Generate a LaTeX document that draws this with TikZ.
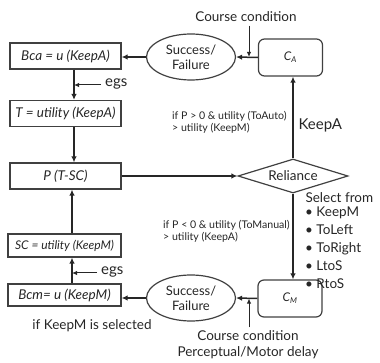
\documentclass[tikz,border=0pt]{standalone}
\usepackage{fontspec}
\setmainfont{Lato}
\usetikzlibrary{shapes.geometric,arrows.meta}
\begin{document}
\begin{tikzpicture}[x=1pt,y=-1pt,
  every node/.style={text=black!85,font=\fontsize{13.5}{14}\selectfont},
  box/.style={draw=black!75,line width=1.2pt,minimum width=111pt,minimum height=26pt,inner sep=0pt,font=\itshape\fontsize{13.5}{14}\selectfont},
  ell/.style={ellipse,draw=black!75,line width=1.2pt,minimum width=89pt,minimum height=46pt,inner sep=0pt,align=center,font=\fontsize{13}{15}\selectfont},
  cbox/.style={rounded corners=6pt,draw=black!75,line width=1.2pt,minimum width=64pt,minimum height=37pt,font=\itshape\fontsize{12}{12}\selectfont},
  arr/.style={draw=black!85,-{Latex[length=6pt,width=5.5pt]},line width=1.5pt},
  tarr/.style={draw=black!85,-{Latex[length=5pt,width=4.5pt]},line width=1pt},
  small/.style={font=\fontsize{10.6}{11.5}\selectfont,align=left,inner sep=0pt}
]
\useasboundingbox (0,0) rectangle (380,363);
% left column
\node[box] (bca) at (65.5,56) {Bca = u (KeepA)};
\node[box] (t) at (65.5,113.5) {T = utility (KeepA)};
\node[box] (p) at (65.5,176) {P (T-SC)};
\node[box,minimum width=113pt,minimum height=23pt,font=\itshape\fontsize{12}{12}\selectfont] (sc) at (64.5,245.5) {SC = utility (KeepM)};
\node[box,minimum width=113pt,minimum height=22pt] (bcm) at (64.5,295) {Bcm= u (KeepM)};
\node (sel1) at (92,326) {if KeepM is selected};
\coordinate (xa) at (74,0);
\coordinate (xm) at (72,0);
\draw[arr] (bca.south -| xa) -- (t.north -| xa);
\draw[arr] (t.south -| xa) -- (p.north -| xa);
\draw[arr] (bcm.north -| xm) -- (sc.south -| xm);
\draw[arr] (sc.north -| xm) -- (p.south -| xm);
\node[anchor=west,inner sep=0pt,font=\fontsize{15}{15}\selectfont] (egsa) at (105,84) {egs};
\coordinate (ea) at (101,85);
\draw[tarr] (ea) -- (ea -| xa);
\node[anchor=west,inner sep=0pt,font=\fontsize{15}{15}\selectfont] (egsm) at (101,272) {egs};
\coordinate (em) at (97,273);
\draw[tarr] (em) -- (em -| xm);
% top
\node[ell] (sfa) at (191,57) {Success/\\Failure};
\node[cbox] (ca) at (290.5,57.5) {C\textsubscript{A}};
\draw[arr] (ca.west) -- (sfa.east);
\draw[arr] (sfa.west) -- (sfa.west -| bca.east);
\node (cc1) at (246,17) {Course condition};
\coordinate (cca) at (249,57);
\draw[tarr] (cc1.south -| cca) -- (cca);
% reliance
\node[diamond,draw=black!75,line width=1.2pt,aspect=3.2,inner sep=1pt,minimum width=110pt,minimum height=34pt] (rel) at (293,176) {Reliance};
\draw[arr] (p.east) -- (rel.west);
\draw[arr] (rel.north) -- (rel.north |- ca.south);
\node[anchor=west,font=\fontsize{15}{15}\selectfont] (keepa) at (295,125) {KeepA};
\node[small,anchor=west] (c1) at (172,122.5) {if P > 0 \& utility (ToAuto)\\> utility (KeepM)};
\node[small,anchor=west] (c2) at (163,231.5) {if P < 0 \& utility (ToManual)\\> utility (KeepA)};
% bottom
\node[cbox] (cm) at (290,298.5) {C\textsubscript{M}};
\draw[arr] (rel.south) -- (rel.south |- cm.north);
\node[ell] (sfm) at (191,298) {Success/\\Failure};
\draw[arr] (cm.west) -- (sfm.east);
\draw[arr] (sfm.west) -- (sfm.west -| bcm.east);
\node (cc2) at (248,336) {Course condition};
\node (pmd) at (248,353) {Perceptual/Motor delay};
\coordinate (ccm) at (249,298.5);
\draw[tarr] (cc2.north -| ccm) -- (ccm);
% select list
\node[anchor=west] (sel) at (302,198) {Select from};
\node[anchor=north west,align=left,inner sep=0pt,font=\fontsize{13.5}{17.8}\selectfont] (list) at (305,207) {• KeepM\\• ToLeft\\• ToRight\\• LtoS\\• RtoS};
\end{tikzpicture}
\end{document}
